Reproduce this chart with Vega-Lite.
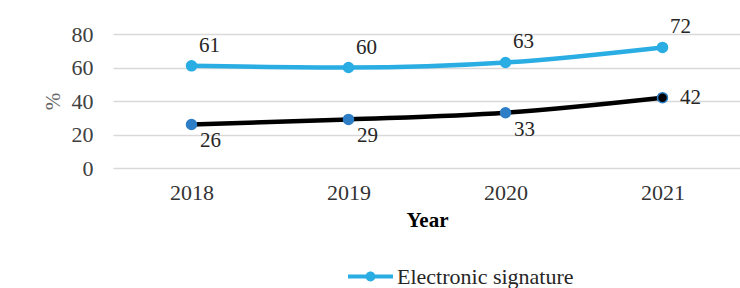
{
  "$schema": "https://vega.github.io/schema/vega-lite/v6.json",
  "width": 628,
  "height": 134,
  "autosize": "none",
  "padding": {"left": 113, "top": 34, "right": 0, "bottom": 120},
  "background": "white",
  "config": {"view": {"stroke": null}, "font": "Liberation Serif"},
  "data": {
    "values": [
      {"year": "2018", "series": "Electronic signature", "value": 61},
      {"year": "2019", "series": "Electronic signature", "value": 60},
      {"year": "2020", "series": "Electronic signature", "value": 63},
      {"year": "2021", "series": "Electronic signature", "value": 72},
      {"year": "2018", "series": "Other", "value": 26},
      {"year": "2019", "series": "Other", "value": 29},
      {"year": "2020", "series": "Other", "value": 33},
      {"year": "2021", "series": "Other", "value": 42}
    ]
  },
  "encoding": {
    "x": {
      "field": "year",
      "type": "ordinal",
      "scale": {"padding": 0.5},
      "axis": {
        "title": "Year",
        "titleFontWeight": "bold",
        "titleFontSize": 21,
        "titleColor": "#000000",
        "labelFontSize": 22,
        "labelColor": "#333333",
        "labelAngle": 0,
        "ticks": false,
        "domain": false,
        "labelPadding": 14,
        "titlePadding": 6
      }
    },
    "y": {
      "field": "value",
      "type": "quantitative",
      "scale": {"domain": [0, 80]},
      "axis": {
        "title": "%",
        "values": [0, 20, 40, 60, 80],
        "ticks": false,
        "domain": false,
        "labelPadding": 20,
        "labelFontSize": 22,
        "labelColor": "#404040",
        "gridColor": "#D9D9D9",
        "gridWidth": 1.3,
        "titleFontSize": 21,
        "titleFontWeight": "normal",
        "titleColor": "#666666",
        "titlePadding": 8
      }
    }
  },
  "layer": [
    {
      "mark": {"type": "line", "strokeWidth": 4.5, "interpolate": "monotone"},
      "encoding": {
        "color": {
          "field": "series",
          "type": "nominal",
          "scale": {"domain": ["Electronic signature", "Other"], "range": ["#2AADE3", "#000000"]},
          "legend": {
            "title": null,
            "values": ["Electronic signature"],
            "orient": "none",
            "legendX": 246,
            "legendY": 231,
            "padding": 0,
            "symbolType": "M-2,-0.18H2V0.18H-2Z M-0.44,0A0.44,0.44 0 1,1 0.44,0A0.44,0.44 0 1,1 -0.44,0Z",
            "symbolSize": 506,
            "symbolFillColor": "#2AADE3",
            "symbolStrokeWidth": 0,
            "labelFontSize": 22,
            "labelColor": "#262626",
            "labelOffset": 15,
            "labelLimit": 400
          }
        }
      }
    },
    {
      "mark": {"type": "point", "filled": true, "size": 100, "opacity": 1, "strokeWidth": 1.5},
      "encoding": {
        "fill": {
          "condition": [
            {"test": "datum.series === 'Electronic signature'", "value": "#2AADE3"},
            {"test": "datum.year === '2021'", "value": "#000000"}
          ],
          "value": "#2E7EC6"
        },
        "stroke": {
          "condition": [
            {"test": "datum.series === 'Electronic signature'", "value": "#2AADE3"}
          ],
          "value": "#2E7EC6"
        }
      }
    },
    {
      "transform": [{"filter": "datum.series === 'Electronic signature'"}],
      "mark": {"type": "text", "dx": 18, "dy": -20, "fontSize": 21, "color": "#262626"},
      "encoding": {"text": {"field": "value", "type": "quantitative"}}
    },
    {
      "transform": [{"filter": "datum.series === 'Other' && datum.year !== '2021'"}],
      "mark": {"type": "text", "dx": 19, "dy": 17, "fontSize": 21, "color": "#262626"},
      "encoding": {"text": {"field": "value", "type": "quantitative"}}
    },
    {
      "transform": [{"filter": "datum.series === 'Other' && datum.year === '2021'"}],
      "mark": {"type": "text", "dx": 28, "dy": 0, "fontSize": 21, "color": "#262626"},
      "encoding": {"text": {"field": "value", "type": "quantitative"}}
    }
  ]
}
